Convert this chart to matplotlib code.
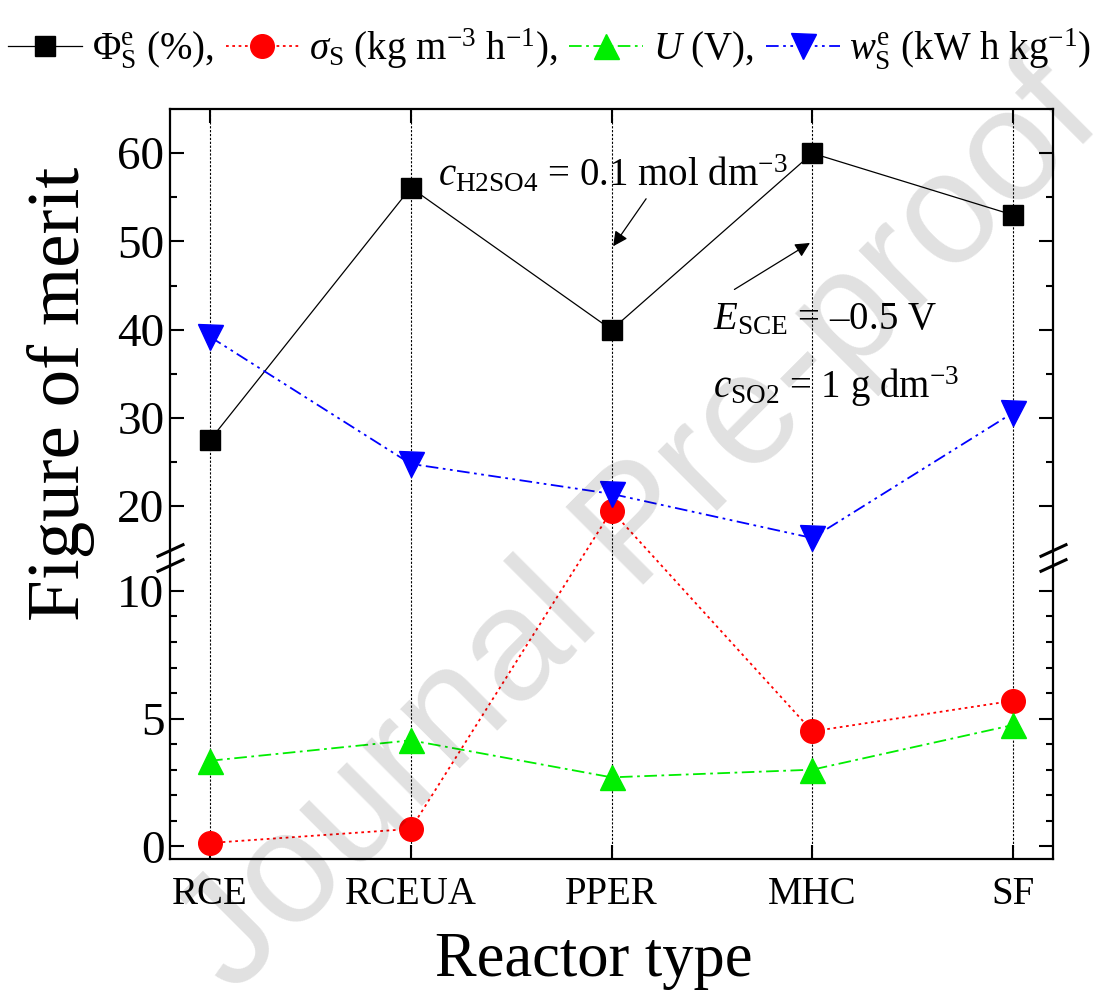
import numpy as np
import matplotlib
matplotlib.use('Agg')
import matplotlib.pyplot as plt

plt.rcParams['font.family'] = ['Liberation Serif', 'DejaVu Serif']
plt.rcParams['mathtext.fontset'] = 'custom'
plt.rcParams['mathtext.rm'] = 'Liberation Serif'
plt.rcParams['mathtext.it'] = 'Liberation Serif:italic'
plt.rcParams['mathtext.bf'] = 'Liberation Serif:bold'

# dados
reatores = ['RCE', 'RCEUA', 'PPER', 'MHC', 'SF']
phi_s = [27.5, 56.1, 40.0, 60.0, 53.0]        # %
sigma_s = [0.13, 0.68, 19.5, 4.5, 5.7]        # kg m-3 h-1
tensao = [3.35, 4.15, 2.7, 3.0, 4.75]         # V
w_s = [39.2, 24.8, 21.4, 16.4, 30.6]          # kW h kg-1

# quebra do eixo y: -0.5..11 embaixo, 15..65 em cima
Y_MIN, Y_LO, Y_HI, Y_MAX = -0.5, 11, 15, 65
ESC = 2.894   # razao de escala inferior / superior
GAP = 1.7


def fwd(y):
    y = np.asarray(y, dtype=float)
    return np.where(y <= Y_LO, y * ESC,
                    np.where(y < Y_HI, Y_LO * ESC + (y - Y_LO) * GAP / (Y_HI - Y_LO),
                             Y_LO * ESC + GAP + (y - Y_HI)))


def inv(z):
    z = np.asarray(z, dtype=float)
    z1 = Y_LO * ESC
    return np.where(z <= z1, z / ESC,
                    np.where(z < z1 + GAP, Y_LO + (z - z1) * (Y_HI - Y_LO) / GAP,
                             Y_HI + (z - z1 - GAP)))


fig = plt.figure(figsize=(10.96, 9.92), dpi=100)
ax = fig.add_axes([0.155, 0.134, 0.806, 0.756])
ax.set_yscale('function', functions=(fwd, inv))

x = np.arange(len(reatores))

for xi in x:
    ax.axvline(xi, color='black', ls=(0, (2, 1.5)), lw=0.8, zorder=1)

ax.plot(x, phi_s, color='black', lw=0.9, ls='-', marker='s', ms=14.5,
        mfc='black', mec='black', label=r'$\Phi_\mathrm{S}^\mathrm{e}$ (%),', zorder=3)
ax.plot(x, sigma_s, color='red', lw=1.3, ls=(0, (1.5, 2)), marker='o', ms=17,
        mfc='red', mec='red', label=r'$\sigma_\mathrm{S}$ (kg m$^{-3}$ h$^{-1}$),', zorder=3)
ax.plot(x, tensao, color='#00ee00', lw=1.3, ls=(0, (7, 2.5, 1.5, 2.5)), marker='^', ms=18,
        mfc='#00ee00', mec='#00ee00', label=r'$U$ (V),', zorder=3)
ax.plot(x, w_s, color='blue', lw=1.3, ls=(0, (7, 2.5, 1.5, 2.5, 1.5, 2.5)), marker='v', ms=18,
        mfc='blue', mec='blue', label=r'$w_\mathrm{S}^\mathrm{e}$ (kW h kg$^{-1}$)', zorder=3)

ax.set_xlim(-0.2, 4.2)
ax.set_ylim(Y_MIN, Y_MAX)
ax.set_xticks(x)
ax.set_xticklabels(reatores)
ax.set_yticks([0, 5, 10, 20, 30, 40, 50, 60])
ax.set_yticklabels(['0', '5', '10', '20', '30', '40', '50', '60'])
ax.set_yticks([1, 2, 3, 4, 6, 7, 8, 9, 25, 35, 45, 55], minor=True)
ax.tick_params(axis='both', which='both', direction='in', width=1.5,
               top=True, right=True)
ax.tick_params(axis='both', which='major', length=10)
ax.tick_params(axis='y', which='minor', length=5)
ax.tick_params(axis='x', which='major', labelsize=28, pad=12)
ax.tick_params(axis='y', which='major', labelsize=34, pad=4)
for sp in ax.spines.values():
    sp.set_linewidth(1.6)

ax.set_xlabel('Reactor type', fontsize=45, labelpad=14)
ax.xaxis.label.set_x(0.48)
ax.set_ylabel('Figure of merit', fontsize=54, labelpad=16)
ax.yaxis.label.set_y(0.62)

# marcas da quebra
y_tot = fwd(Y_MAX) - fwd(Y_MIN)
for yv in (Y_LO, Y_HI):
    yf = float((fwd(yv) - fwd(Y_MIN)) / y_tot)
    ax.plot([0, 1], [yf, yf], transform=ax.transAxes, ls='none',
            marker=[(-1, -0.46), (1, 0.46)], ms=20, mec='black', mew=2.2,
            clip_on=False, zorder=5)

# anotacoes
ax.text(1.136, 56.3, r'$c_\mathrm{H2SO4}$ = 0.1 mol dm$^{-3}$', fontsize=28, va='baseline')
ax.text(2.506, 40.0, '$E_\\mathrm{SCE}$ = \u20130.5 V', fontsize=28, va='baseline')
ax.text(2.506, 32.3, r'$c_\mathrm{SO2}$ = 1 g dm$^{-3}$', fontsize=28, va='baseline')
ax.annotate('', xy=(2.0, 49.2), xytext=(2.18, 55.1),
            arrowprops=dict(arrowstyle='-|>', color='black', lw=0.9, mutation_scale=22))
ax.annotate('', xy=(3.0, 50.0), xytext=(2.60, 44.4),
            arrowprops=dict(arrowstyle='-|>', color='black', lw=0.9, mutation_scale=22))

ax.legend(loc='lower center', bbox_to_anchor=(0.43, 1.03), ncol=4, frameon=False,
          fontsize=28, handlelength=1.9, handletextpad=0.25, columnspacing=0.3,
          borderaxespad=0, markerscale=1.0)

# marca d'agua
fig.text(0.584, 0.466, 'Journal Pre-proof', fontsize=115, family='Liberation Sans',
         color='black', alpha=0.12, rotation=45, ha='center', va='center', zorder=10)

fig.savefig('out.png', dpi=100)
